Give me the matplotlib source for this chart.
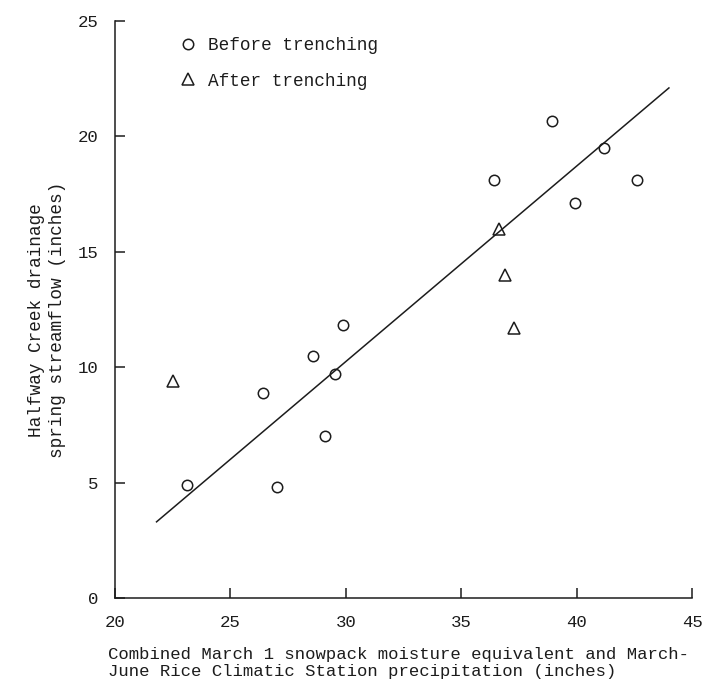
import numpy as np
import matplotlib
matplotlib.use("Agg")
import matplotlib.pyplot as plt

plt.rcParams['font.family'] = ['Liberation Mono', 'DejaVu Sans Mono']

# data
before_x = [23.1, 27.0, 26.4, 29.1, 28.6, 29.9, 29.55, 38.95, 41.2, 36.4, 42.6, 39.95]
before_y = [4.9, 4.8, 8.9, 7.0, 10.5, 11.85, 9.7, 20.65, 19.5, 18.1, 18.1, 17.1]
after_x = [22.5, 36.65, 36.9, 37.3]
after_y = [9.4, 16.0, 14.0, 11.7]
fit_x = [21.8, 44.0]
fit_y = [3.3, 22.1]

xticks = [20, 25, 30, 35, 40, 45]
yticks = [0, 5, 10, 15, 20, 25]

ink = '#1c1c1c'

fig = plt.figure(figsize=(7.02, 6.85), dpi=100)
ax = fig.add_axes([115/702, 1 - 598/685, 577/702, 577/685])

ax.plot(fit_x, fit_y, color=ink, lw=1.1)
ax.plot(before_x, before_y, linestyle='none', marker='o', ms=7.5,
        mfc='none', mec=ink, mew=1.1, label='Before trenching')
ax.plot(after_x, after_y, linestyle='none', marker='^', ms=8,
        mfc='none', mec=ink, mew=1.1, label='After trenching')

ax.set_xlim(20, 45)
ax.set_ylim(0, 25)
ax.set_xticks(xticks)
ax.set_yticks(yticks)
ax.tick_params(direction='in', length=7, width=1.1, colors=ink,
               labelsize=12.5, pad=12)
for s in ['top', 'right']:
    ax.spines[s].set_visible(False)
for s in ['left', 'bottom']:
    ax.spines[s].set_color(ink)
    ax.spines[s].set_linewidth(1.1)

ax.legend(loc='upper left', bbox_to_anchor=(179.5/702, 1 - 37/685),
          bbox_transform=fig.transFigure, frameon=False, numpoints=1,
          fontsize=12.8, handlelength=1.0, handletextpad=0.6,
          labelspacing=1.05, borderpad=0, borderaxespad=0, labelcolor=ink)

fig.text(47/702, 1 - 320/685,
         'Halfway Creek drainage\nspring streamflow (inches)',
         rotation=90, ha='center', va='center', multialignment='center',
         fontsize=12.8, color=ink, linespacing=1.25)
fig.text(108/702, 1 - 663/685,
         'Combined March 1 snowpack moisture equivalent and March-\n'
         'June Rice Climatic Station precipitation (inches)',
         ha='left', va='center', fontsize=12.4, color=ink, linespacing=1.2)

fig.savefig('out.png', dpi=100)
